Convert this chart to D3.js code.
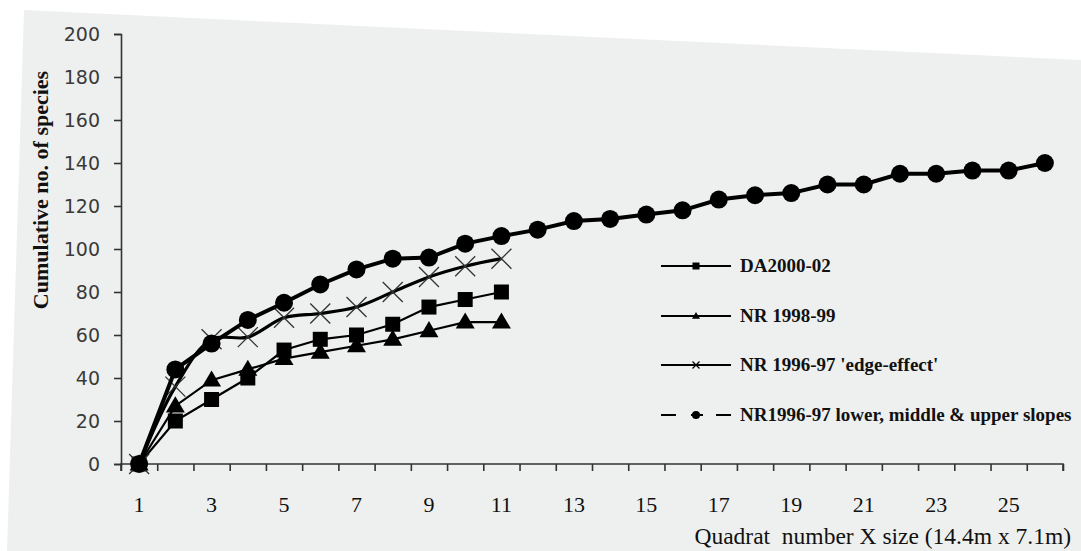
<!DOCTYPE html>
<html>
<head>
<meta charset="utf-8">
<script src="https://cdn.jsdelivr.net/npm/d3@7"></script>
<style>
  html, body { margin: 0; padding: 0; background: #ffffff; }
  svg { display: block; }
</style>
</head>
<body>
<svg id="chart" width="1081" height="551"></svg>
<script>
// Quadrat numbers along the x axis
const quadrats = d3.range(1, 27);
const xTickLabels = [1, 3, 5, 7, 9, 11, 13, 15, 17, 19, 21, 23, 25];
const yTickValues = [0, 20, 40, 60, 80, 100, 120, 140, 160, 180, 200];

// Cumulative species counts per survey
const da2000 = [0, 20, 30, 40, 53, 58, 60, 65, 73, 76.5, 80];
const nr1998 = [0, 27, 39, 44, 49, 52, 55, 58, 62, 66, 66];
const nrEdge = [0, 36, 58, 59, 68, 70, 73, 80, 87, 92, 95.5];
const nrSlopes = [0, 44, 56, 67, 75, 83.5, 90.5, 95.5, 96, 102.5, 106, 109, 113, 114,
                  116, 118, 123, 125, 126, 130, 130, 135, 135, 136.5, 136.5, 140];

const seriesNames = ["DA2000-02", "NR 1998-99", "NR 1996-97 'edge-effect'",
                     "NR1996-97 lower, middle & upper slopes"];

const svg = d3.select("#chart");

// page backdrop
svg.append("polygon")
  .attr("points", "24,10 1081,60 1081,551 7,551")
  .attr("fill", "#eef0ef");

const x = d3.scaleLinear().domain([0.5, 26.5]).range([121, 1063]);
const y = d3.scaleLinear().domain([0, 200]).range([464, 34]);

const axisColor = "#333";

// y axis
const yAxis = svg.append("g")
  .attr("transform", "translate(121,0)")
  .call(d3.axisLeft(y).tickValues(yTickValues).tickSize(7).tickPadding(14));
yAxis.select(".domain").attr("stroke", axisColor).attr("stroke-width", 1.6);
yAxis.selectAll(".tick line").attr("stroke", axisColor).attr("stroke-width", 1.6);
yAxis.selectAll(".tick text")
  .attr("font-family", "DejaVu Sans, sans-serif")
  .attr("font-size", 19)
  .attr("fill", "#3a3a3a");

// x axis: tick marks between quadrats
const xAxis = svg.append("g")
  .attr("transform", "translate(0,464)")
  .call(d3.axisBottom(x).tickValues(d3.range(0.5, 27, 1)).tickSize(7).tickFormat(""));
xAxis.select(".domain").attr("stroke", axisColor).attr("stroke-width", 1.6)
  .attr("d", `M${x(0.5)},7V0H${x(26.5)}V7`);
xAxis.selectAll(".tick line").attr("stroke", axisColor).attr("stroke-width", 1.6);

// x tick labels on odd quadrats
svg.append("g").selectAll("text")
  .data(xTickLabels)
  .join("text")
  .attr("x", d => x(d))
  .attr("y", 512)
  .attr("text-anchor", "middle")
  .attr("font-family", "Liberation Serif, serif")
  .attr("font-size", 22)
  .attr("fill", "#111")
  .text(d => d);

// axis titles
svg.append("text")
  .attr("transform", "translate(48,190) rotate(-90)")
  .attr("text-anchor", "middle")
  .attr("font-family", "Liberation Serif, serif")
  .attr("font-weight", "bold")
  .attr("font-size", 22)
  .attr("fill", "#111")
  .text("Cumulative no. of species");

svg.append("text")
  .attr("x", 1071)
  .attr("y", 544)
  .attr("text-anchor", "end")
  .attr("font-family", "Liberation Serif, serif")
  .attr("font-size", 23.5)
  .attr("fill", "#111")
  .style("white-space", "pre")
  .text("Quadrat  number X size (14.4m x 7.1m)");

const pts = arr => arr.map((v, i) => [x(quadrats[i]), y(v)]);
const straight = d3.line();
const smooth = d3.line().curve(d3.curveCatmullRom.alpha(0.5));

const plot = svg.append("g");

// marker shapes
function drawSquare(g, p, s) {
  g.append("rect").attr("x", p[0] - s / 2).attr("y", p[1] - s / 2)
    .attr("width", s).attr("height", s).attr("fill", "#000");
}
function drawTriangle(g, p, s) {
  const h = s * 0.85;
  g.append("path")
    .attr("d", `M${p[0]},${p[1] - h * 0.6}L${p[0] + s / 2},${p[1] + h * 0.4}L${p[0] - s / 2},${p[1] + h * 0.4}Z`)
    .attr("fill", "#000");
}
function drawCross(g, p, s, w, c) {
  const h = s / 2;
  g.append("path")
    .attr("d", `M${p[0] - h},${p[1] - h}L${p[0] + h},${p[1] + h}M${p[0] - h},${p[1] + h}L${p[0] + h},${p[1] - h}`)
    .attr("stroke", c).attr("stroke-width", w).attr("fill", "none");
}
function drawCircle(g, p, r) {
  g.append("circle").attr("cx", p[0]).attr("cy", p[1]).attr("r", r).attr("fill", "#000");
}

// DA2000-02
const sq = plot.append("g");
sq.append("path").attr("d", straight(pts(da2000)))
  .attr("fill", "none").attr("stroke", "#000").attr("stroke-width", 2.2);
pts(da2000).forEach(p => drawSquare(sq, p, 15));

// NR 1998-99
const tr = plot.append("g");
tr.append("path").attr("d", straight(pts(nr1998)))
  .attr("fill", "none").attr("stroke", "#000").attr("stroke-width", 2.2);
pts(nr1998).forEach(p => drawTriangle(tr, p, 19));

// NR 1996-97 edge-effect (smoothed)
const cr = plot.append("g");
cr.append("path").attr("d", smooth(pts(nrEdge)))
  .attr("fill", "none").attr("stroke", "#000").attr("stroke-width", 3.2);
pts(nrEdge).forEach(p => drawCross(cr, p, 20, 1.3, "#333"));

// NR1996-97 slopes
const ci = plot.append("g");
ci.append("path").attr("d", straight(pts(nrSlopes)))
  .attr("fill", "none").attr("stroke", "#000").attr("stroke-width", 4);
pts(nrSlopes).forEach(p => drawCircle(ci, p, 9));

// legend
const legendRows = [266, 316, 365, 415];
const lg = svg.append("g");
legendRows.forEach((ly, i) => {
  const line = lg.append("line")
    .attr("x1", 661).attr("x2", 731).attr("y1", ly).attr("y2", ly)
    .attr("stroke", "#000").attr("stroke-width", 2.2);
  if (i === 3) line.attr("stroke-dasharray", "15,15,12,13,15");
  const c = [696, ly];
  if (i === 0) drawSquare(lg, c, 7);
  if (i === 1) drawTriangle(lg, c, 8);
  if (i === 2) drawCross(lg, c, 7, 1.2, "#000");
  if (i === 3) drawCircle(lg, c, 4);
  lg.append("text")
    .attr("x", 740).attr("y", ly + 6)
    .attr("font-family", "Liberation Serif, serif")
    .attr("font-weight", "bold")
    .attr("font-size", 19)
    .attr("fill", "#111")
    .text(seriesNames[i]);
});
</script>
</body>
</html>
